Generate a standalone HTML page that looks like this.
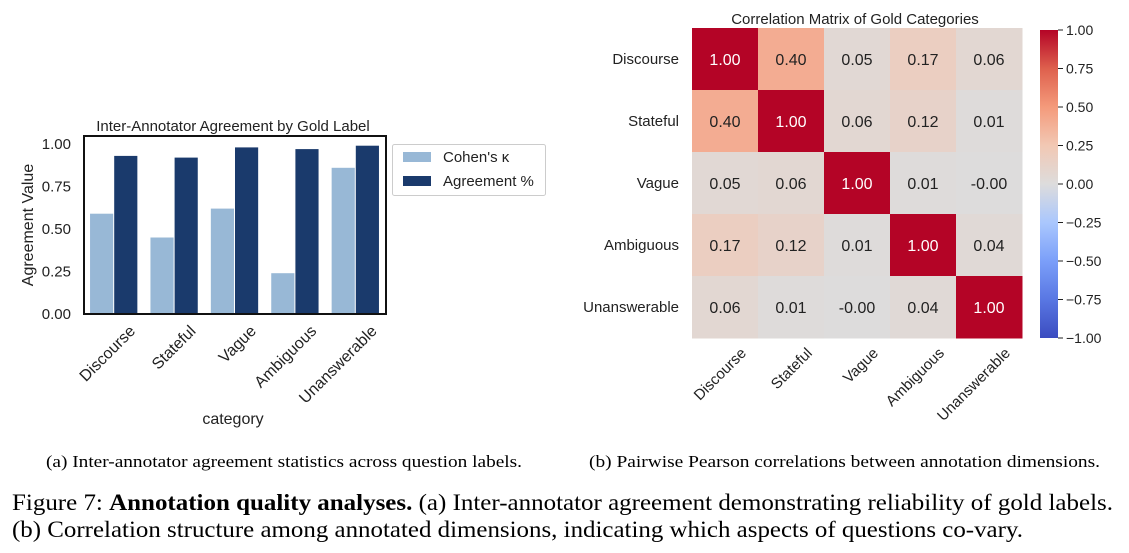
<!DOCTYPE html>
<html><head><meta charset="utf-8"><style>
html,body{margin:0;padding:0;background:#fff}
svg{display:block;font-family:"Liberation Sans",sans-serif}
.serif{font-family:"Liberation Serif",serif}
</style></head><body>
<svg id="fig" width="1129" height="553" viewBox="0 0 1129 553">
<g id="bar"></g>
<g id="heat"></g>
<text class="serif" x="46" y="467" font-size="17" textLength="476" lengthAdjust="spacingAndGlyphs">(a) Inter-annotator agreement statistics across question labels.</text>
<text class="serif" x="589" y="467" font-size="17" textLength="511" lengthAdjust="spacingAndGlyphs">(b) Pairwise Pearson correlations between annotation dimensions.</text>
<text class="serif" x="12" y="510" font-size="23" textLength="1101" lengthAdjust="spacingAndGlyphs">Figure 7: <tspan font-weight="bold">Annotation quality analyses.</tspan> (a) Inter-annotator agreement demonstrating reliability of gold labels.</text>
<text class="serif" x="12" y="537" font-size="23" textLength="1011" lengthAdjust="spacingAndGlyphs">(b) Correlation structure among annotated dimensions, indicating which aspects of questions co-vary.</text>
</svg>
<script>
const categories=["Discourse","Stateful","Vague","Ambiguous","Unanswerable"];
const kappaValues=[0.59,0.45,0.62,0.24,0.86];
const agreementValues=[0.93,0.92,0.98,0.97,0.99];
const yTicks=[0,0.25,0.5,0.75,1.0];
const corrMatrix=[[1,0.40,0.05,0.17,0.06],[0.40,1,0.06,0.12,0.01],[0.05,0.06,1,0.01,-0.00],[0.17,0.12,0.01,1,0.04],[0.06,0.01,-0.00,0.04,1]];
const cbTicks=[1,0.75,0.5,0.25,0,-0.25,-0.5,-0.75,-1];
const NS="http://www.w3.org/2000/svg";
function mk(parent,tag,attrs,text){const e=document.createElementNS(NS,tag);for(const k in attrs)e.setAttribute(k,attrs[k]);if(text!==undefined)e.textContent=text;parent.appendChild(e);return e;}
const bar=document.getElementById('bar');
const L=84,R=386,T=136,B=314;
const y=v=>B-v*170;
const gw=(R-L)/categories.length;
const xg=i=>L+gw*i;
let t=mk(bar,'text',{x:233,y:131,'font-size':15,'text-anchor':'middle',fill:'#222'},'Inter-Annotator Agreement by Gold Label');

categories.forEach((c,i)=>{
 const w=gw*0.4;
 let r1=mk(bar,'rect',{x:xg(i)+gw*0.1,y:y(kappaValues[i]),width:w-1,height:B-y(kappaValues[i]),fill:'#98b8d6'});
 
 let r2=mk(bar,'rect',{x:xg(i)+gw*0.5,y:y(agreementValues[i]),width:w-1,height:B-y(agreementValues[i]),fill:'#1a3a6c'});
 
 const cx=xg(i)+gw*0.5+22;
 let tl=mk(bar,'text',{x:cx,y:332,'font-size':16,'text-anchor':'end',fill:'#222',transform:`rotate(-45 ${cx} 332)`},c);
 
});
let fr=mk(bar,'rect',{x:L,y:T,width:R-L,height:B-T,fill:'none',stroke:'#111','stroke-width':2});

yTicks.forEach(v=>{let e=mk(bar,'text',{x:71,y:y(v)+5,'font-size':15,'text-anchor':'end',fill:'#222'},v.toFixed(2));
 });
let ya=mk(bar,'text',{x:33,y:225,'font-size':16,'text-anchor':'middle',fill:'#222',transform:'rotate(-90 33 225)'},'Agreement Value');

let xa=mk(bar,'text',{x:233,y:424,'font-size':16,'text-anchor':'middle',fill:'#222'},'category');

let lg=mk(bar,'g',{});

mk(lg,'rect',{x:392.5,y:144.5,width:153,height:51,rx:2,fill:'#fff',stroke:'#ccc'});
mk(lg,'rect',{x:403,y:152,width:28,height:10,fill:'#98b8d6'});
mk(lg,'rect',{x:403,y:176,width:28,height:10,fill:'#1a3a6c'});
let le1=mk(lg,'text',{x:443,y:162,'font-size':15,fill:'#222'},"Cohen's \u03ba");

let le2=mk(lg,'text',{x:443,y:186,'font-size':15,fill:'#222'},'Agreement %');

const heat=document.getElementById('heat');
const HL=692,HT=28,cw=66,ch=62;
const stops=[[-1,[59,76,192]],[-0.75,[89,119,227]],[-0.5,[123,159,249]],[-0.25,[170,199,253]],[0,[221,220,220]],[0.25,[242,200,180]],[0.5,[244,154,123]],[0.75,[222,96,77]],[1,[180,4,38]]];
function cmap(v){for(let k=0;k<stops.length-1;k++){const a=stops[k],b=stops[k+1];if(v<=b[0]){const f=(v-a[0])/(b[0]-a[0]);return 'rgb('+a[1].map((c,j)=>Math.round(c+(b[1][j]-c)*f)).join(',')+')';}}return 'rgb(180,4,38)';}
let ht=mk(heat,'text',{x:855,y:24,'font-size':15,'text-anchor':'middle',fill:'#222'},'Correlation Matrix of Gold Categories');

corrMatrix.forEach((row,r)=>row.forEach((v,c)=>{
 let cell=mk(heat,'rect',{x:HL+c*cw,y:HT+r*ch,width:cw+0.5,height:ch+0.5,fill:cmap(v)});
 
 let lab=mk(heat,'text',{x:HL+c*cw+cw/2,y:HT+r*ch+ch/2+6,'font-size':16,'text-anchor':'middle',fill:v>0.7?'#fff':'#222'},(Object.is(v,-0)?'-0.00':v.toFixed(2)));
 
}));
categories.forEach((c,i)=>{
 let e=mk(heat,'text',{x:679,y:HT+i*ch+ch/2+5,'font-size':15,'text-anchor':'end',fill:'#222'},c);
 
 const cx=HL+i*cw+cw/2+22;
 let f=mk(heat,'text',{x:cx,y:354,'font-size':15,'text-anchor':'end',fill:'#222',transform:`rotate(-45 ${cx} 354)`},c);
 
});
const defs=mk(heat,'defs',{});
const lgd=mk(defs,'linearGradient',{id:'cb',x1:0,y1:0,x2:0,y2:1});
stops.slice().reverse().forEach((s,k)=>mk(lgd,'stop',{offset:(k/(stops.length-1)),'stop-color':cmap(s[0])}));
const CT=30,CB=338;
const cy=v=>CT+(1-v)/2*(CB-CT);
let cbar=mk(heat,'rect',{x:1040,y:CT,width:18,height:CB-CT,fill:'url(#cb)'});

cbTicks.forEach(v=>{
 mk(heat,'line',{x1:1058,x2:1063,y1:cy(v),y2:cy(v),stroke:'#222','stroke-width':1});
 let e=mk(heat,'text',{x:1066,y:cy(v)+5,'font-size':14,fill:'#222'},(v<0?'\u2212'+Math.abs(v).toFixed(2):v.toFixed(2)));
 
});
</script>
</body></html>
